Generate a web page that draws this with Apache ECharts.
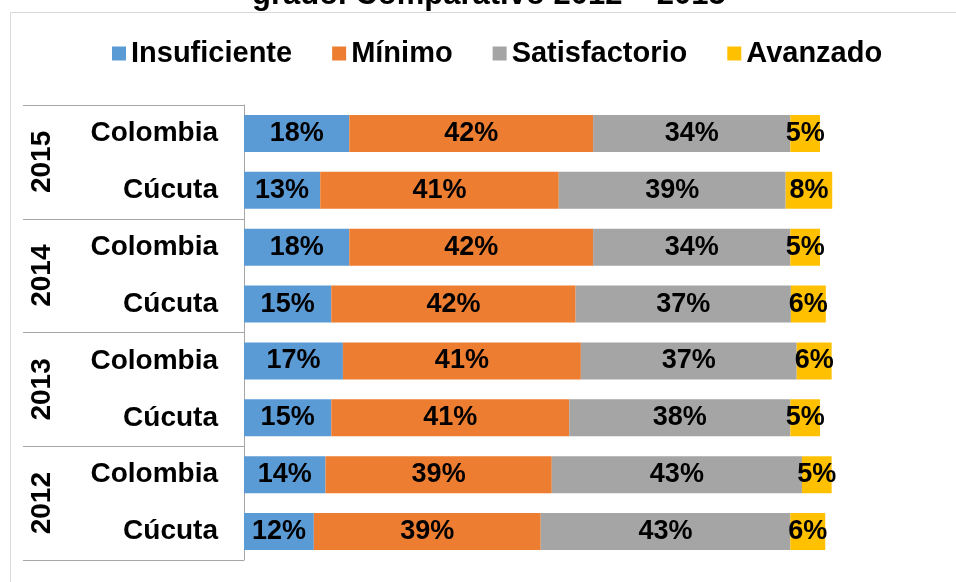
<!DOCTYPE html>
<html lang="es">
<head>
    <meta charset="UTF-8">
    <title>echarts</title>
 <style>
     html, body { margin: 0; padding: 0; background: #fff; }
     #chart{
         width:956px;
         height:582px;
          }
  </style>
</head>
<body>
<div id="chart"></div>
</body>
<script src="https://cdn.jsdelivr.net/npm/echarts@6/dist/echarts.min.js"></script>
<script>
    // categorias (de arriba hacia abajo)
    var years = ['2015', '2014', '2013', '2012'];
    var places = ['Colombia', 'Cúcuta'];
    var levels = ['Insuficiente', 'Mínimo', 'Satisfactorio', 'Avanzado'];
    var colors = ['#5B9BD5', '#ED7D31', '#A5A5A5', '#FFC000'];

    // porcentajes, orden: 2015 Col, 2015 Cuc, 2014 Col, 2014 Cuc, ...
    var insuficiente  = [18.1, 13.1, 18.1, 15.0, 17.0, 15.0, 14.0, 12.0];
    var minimo        = [41.9, 41.0, 41.9, 42.0, 40.9, 40.9, 38.9, 39.0];
    var satisfactorio = [33.9, 39.0, 33.9, 37.0, 37.1, 38.0, 43.0, 42.9];
    var avanzado      = [5.1, 8.0, 5.1, 6.0, 6.0, 5.1, 5.1, 6.0];
    var seriesData = [insuficiente, minimo, satisfactorio, avanzado];

    var rows = [];
    years.forEach(function (y) {
        places.forEach(function (p) { rows.push(y + '|' + p); });
    });

    var font = 'Liberation Sans, Arial, sans-serif';
    var lineColor = '#a6a6a6';

    var chart = echarts.init(document.getElementById('chart'));

    var option = {
        animation: false,
        title: {
            text: 'grado. Comparativo 2012 – 2015',
            left: 252,
            top: -20,
            padding: 0,
            textStyle: { fontFamily: font, fontSize: 31, fontWeight: 'bold', color: '#000' }
        },
        graphic: [{
            type: 'rect',
            shape: { x: 10.5, y: 12.5, width: 1000, height: 700 },
            style: { fill: 'none', stroke: '#d9d9d9', lineWidth: 1 },
            silent: true
        }],
        legend: {
            left: 107,
            top: 34,
            itemWidth: 14,
            itemHeight: 14,
            itemGap: 40,
            icon: 'rect',
            data: levels,
            textStyle: { fontFamily: font, fontSize: 29, fontWeight: 'bold', color: '#000' }
        },
        grid: {
            left: 244,
            right: 72,
            top: 105,
            bottom: 22
        },
        xAxis: {
            type: 'value',
            min: 0,
            max: 110,
            show: false
        },
        yAxis: [
            {
                type: 'category',
                data: rows,
                inverse: true,
                axisLine: { show: true, lineStyle: { color: lineColor, width: 1 } },
                axisTick: { show: false },
                axisLabel: {
                    margin: 26,
                    fontFamily: font,
                    fontSize: 28,
                    fontWeight: 'bold',
                    color: '#000',
                    formatter: function (v) { return v.split('|')[1]; }
                }
            },
            {
                type: 'category',
                data: years,
                inverse: true,
                position: 'left',
                axisLine: { show: false },
                axisTick: { show: true, length: 221, interval: 0, lineStyle: { color: lineColor, width: 1 } },
                axisLabel: {
                    rotate: 90,
                    margin: 188,
                    interval: 0,
                    fontFamily: font,
                    fontSize: 28,
                    fontWeight: 'bold',
                    color: '#000'
                }
            }
        ],
        series: levels.map(function (name, i) {
            return {
                name: name,
                type: 'bar',
                stack: 'total',
                yAxisIndex: 0,
                barWidth: 37,
                data: seriesData[i],
                itemStyle: { color: colors[i] },
                label: {
                    show: true,
                    position: 'inside',
                    color: '#000',
                    fontFamily: font,
                    fontSize: 27,
                    fontWeight: 'bold',
                    formatter: function (p) { return Math.round(p.value) + '%'; }
                }
            };
        })
    };

    chart.setOption(option);
</script>
</html>
